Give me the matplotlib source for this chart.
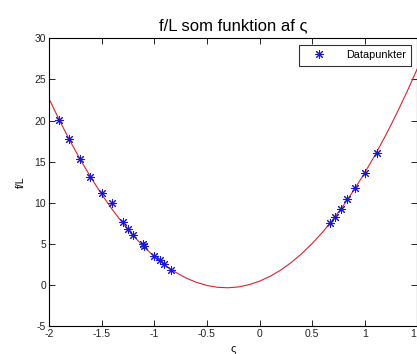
import matplotlib
matplotlib.use("Agg")
import matplotlib.pyplot as plt

# data points
point_x = [-1.905, -1.81, -1.705, -1.61, -1.50, -1.40, -1.30, -1.25, -1.20, -1.11, -1.10,
           -1.00, -0.95, -0.91, -0.84, 0.665, 0.715, 0.775, 0.835, 0.91, 1.00, 1.115]
point_y = [20.07, 17.75, 15.28, 13.16, 11.14, 9.93, 7.65, 6.84, 6.07, 4.95, 4.70,
           3.52, 3.05, 2.54, 1.81, 7.57, 8.30, 9.27, 10.41, 11.75, 13.65, 16.01]

# fitted curve
curve_x = [-2.0, -1.9, -1.8, -1.7, -1.6, -1.5, -1.4, -1.3, -1.2, -1.1, -1.0, -0.9, -0.8,
           -0.7, -0.6, -0.5, -0.4, -0.3, -0.2, -0.1, 0.0, 0.1, 0.2, 0.3, 0.4, 0.5, 0.6,
           0.7, 0.8, 0.9, 1.0, 1.1, 1.2, 1.3, 1.4, 1.5]
curve_y = [22.65, 20.00, 17.51, 15.19, 13.03, 11.03, 9.19, 7.51, 5.99, 4.64, 3.45, 2.42,
           1.55, 0.85, 0.31, -0.07, -0.29, -0.35, -0.25, 0.02, 0.45, 1.04, 1.79, 2.71,
           3.79, 5.03, 6.43, 7.99, 9.71, 11.60, 13.65, 15.86, 18.23, 20.77, 23.47, 26.33]

xticks = [-2, -1.5, -1, -0.5, 0, 0.5, 1, 1.5]
xtick_labels = ["-2", "-1.5", "-1", "-0.5", "0", "0.5", "1", "1.5"]
yticks = [-5, 0, 5, 10, 15, 20, 25, 30]
ytick_labels = ["-5", "0", "5", "10", "15", "20", "25", "30"]

plt.rcParams['font.family'] = ['Liberation Sans', 'DejaVu Sans']

fig = plt.figure(figsize=(4.17, 3.54), dpi=100)
ax = fig.add_axes([0.1175, 0.0791, 0.8835, 0.8127])

ax.plot(curve_x, curve_y, color='#e0202a', linewidth=0.8, zorder=2)
ax.plot(point_x, point_y, linestyle='none', marker=(8, 2, 0), color='#1818d8',
        markersize=6.5, markeredgewidth=0.75, label='Datapunkter', zorder=3)

ax.set_xlim(-2, 1.5)
ax.set_ylim(-5, 30)
ax.set_xticks(xticks)
ax.set_xticklabels(xtick_labels)
ax.set_yticks(yticks)
ax.set_yticklabels(ytick_labels)
ax.tick_params(direction='in', top=True, right=True, length=4.5, width=0.6,
               labelsize=7.5, labelcolor='#222222', pad=2)
for s in ax.spines.values():
    s.set_linewidth(0.8)

ax.set_title('f/L som funktion af ς', fontsize=12, pad=6)
ax.set_xlabel('ς', fontsize=8, labelpad=3)
ax.set_ylabel('f/L', fontsize=7.5, labelpad=6)

leg = ax.legend(loc='upper right', fontsize=7.8, frameon=True, fancybox=False,
                edgecolor='black', borderpad=0.5, handlelength=2.6,
                borderaxespad=0.6, handletextpad=1.2)
leg.get_frame().set_linewidth(0.8)

fig.savefig('out.png', dpi=100)
